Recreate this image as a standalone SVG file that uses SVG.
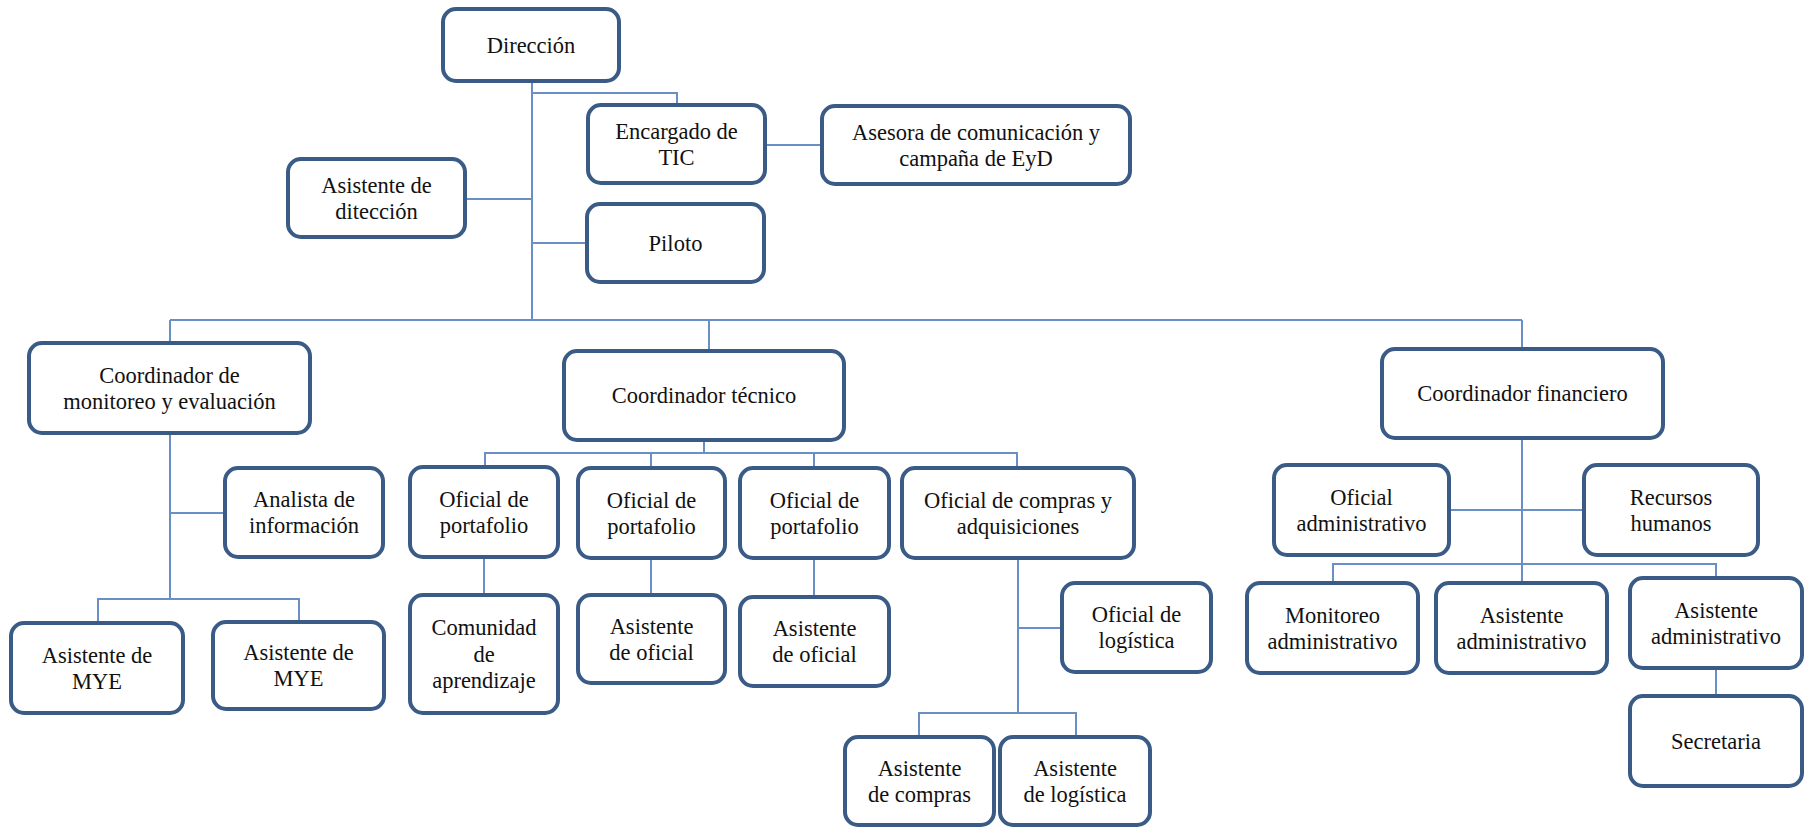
<svg xmlns="http://www.w3.org/2000/svg" width="1814" height="828" viewBox="0 0 1814 828">
  <style>
    .box { fill: #ffffff; stroke: #3b5b87; stroke-width: 4; }
    .lbl { font-family: "Liberation Serif", "Times New Roman", serif; font-size: 22.5px; fill: #111111; text-anchor: middle; }
    .wire { fill: none; stroke: #6a8fc4; stroke-width: 2; }
  </style>
  <rect width="1814" height="828" fill="#ffffff"/>

  <!-- connectors -->
  <g id="connectors" class="wire">
    <path d="M532,81 V320"/>
    <path d="M532,93 H677 V105"/>
    <path d="M465,199 H532"/>
    <path d="M532,243 H587"/>
    <path d="M765,145 H822"/>
    <path d="M170,320 H1522"/>
    <path d="M170,320 V343"/>
    <path d="M709,320 V351"/>
    <path d="M1522,320 V349"/>
    <path d="M170,433 V599"/>
    <path d="M170,513 H225"/>
    <path d="M98,623 V599 H299 V622"/>
    <path d="M704,440 V453"/>
    <path d="M485,467 V453 H1017 V468"/>
    <path d="M651,453 V468"/>
    <path d="M814,453 V468"/>
    <path d="M484,557 V595"/>
    <path d="M651,558 V595"/>
    <path d="M814,558 V597"/>
    <path d="M1018,558 V713"/>
    <path d="M1018,628 H1062"/>
    <path d="M919,737 V713 H1076 V737"/>
    <path d="M1522,438 V583"/>
    <path d="M1449,510 H1584"/>
    <path d="M1333,583 V564 H1716 V578"/>
    <path d="M1716,668 V696"/>
  </g>

  <!-- nodes -->
  <g id="direccion">
    <rect class="box" x="443" y="9" width="176" height="72" rx="13"/>
    <text class="lbl" x="531" y="52.5">Dirección</text>
  </g>
  <g id="encargado-tic">
    <rect class="box" x="588" y="105" width="177" height="78" rx="13"/>
    <text class="lbl" x="676.5" y="138.5">Encargado de</text>
    <text class="lbl" x="676.5" y="164.5">TIC</text>
  </g>
  <g id="asesora">
    <rect class="box" x="822" y="106" width="308" height="78" rx="13"/>
    <text class="lbl" x="976" y="139.5">Asesora de comunicación y</text>
    <text class="lbl" x="976" y="165.5">campaña de EyD</text>
  </g>
  <g id="asistente-direccion">
    <rect class="box" x="288" y="159" width="177" height="78" rx="13"/>
    <text class="lbl" x="376.5" y="192.5">Asistente de</text>
    <text class="lbl" x="376.5" y="218.5">ditección</text>
  </g>
  <g id="piloto">
    <rect class="box" x="587" y="204" width="177" height="78" rx="13"/>
    <text class="lbl" x="675.5" y="250.5">Piloto</text>
  </g>
  <g id="coord-mye">
    <rect class="box" x="29" y="343" width="281" height="90" rx="13"/>
    <text class="lbl" x="169.5" y="382.5">Coordinador de</text>
    <text class="lbl" x="169.5" y="408.5">monitoreo y evaluación</text>
  </g>
  <g id="coord-tecnico">
    <rect class="box" x="564" y="351" width="280" height="89" rx="13"/>
    <text class="lbl" x="704" y="402.5">Coordinador técnico</text>
  </g>
  <g id="coord-financiero">
    <rect class="box" x="1382" y="349" width="281" height="89" rx="13"/>
    <text class="lbl" x="1522.5" y="401">Coordinador financiero</text>
  </g>
  <g id="analista">
    <rect class="box" x="225" y="468" width="158" height="89" rx="13"/>
    <text class="lbl" x="304" y="507">Analista de</text>
    <text class="lbl" x="304" y="533">información</text>
  </g>
  <g id="asistente-mye-1">
    <rect class="box" x="11" y="623" width="172" height="90" rx="13"/>
    <text class="lbl" x="97" y="662.5">Asistente de</text>
    <text class="lbl" x="97" y="688.5">MYE</text>
  </g>
  <g id="asistente-mye-2">
    <rect class="box" x="213" y="622" width="171" height="87" rx="13"/>
    <text class="lbl" x="298.5" y="660">Asistente de</text>
    <text class="lbl" x="298.5" y="686">MYE</text>
  </g>
  <g id="oficial-portafolio-1">
    <rect class="box" x="410" y="467" width="148" height="90" rx="13"/>
    <text class="lbl" x="484" y="506.5">Oficial de</text>
    <text class="lbl" x="484" y="532.5">portafolio</text>
  </g>
  <g id="oficial-portafolio-2">
    <rect class="box" x="578" y="468" width="147" height="90" rx="13"/>
    <text class="lbl" x="651.5" y="507.5">Oficial de</text>
    <text class="lbl" x="651.5" y="533.5">portafolio</text>
  </g>
  <g id="oficial-portafolio-3">
    <rect class="box" x="740" y="468" width="149" height="90" rx="13"/>
    <text class="lbl" x="814.5" y="507.5">Oficial de</text>
    <text class="lbl" x="814.5" y="533.5">portafolio</text>
  </g>
  <g id="oficial-compras">
    <rect class="box" x="902" y="468" width="232" height="90" rx="13"/>
    <text class="lbl" x="1018" y="507.5">Oficial de compras y</text>
    <text class="lbl" x="1018" y="533.5">adquisiciones</text>
  </g>
  <g id="comunidad">
    <rect class="box" x="410" y="595" width="148" height="118" rx="13"/>
    <text class="lbl" x="484" y="635">Comunidad</text>
    <text class="lbl" x="484" y="661.5">de</text>
    <text class="lbl" x="484" y="688">aprendizaje</text>
  </g>
  <g id="asistente-oficial-1">
    <rect class="box" x="578" y="595" width="147" height="88" rx="13"/>
    <text class="lbl" x="651.5" y="633.5">Asistente</text>
    <text class="lbl" x="651.5" y="659.5">de oficial</text>
  </g>
  <g id="asistente-oficial-2">
    <rect class="box" x="740" y="597" width="149" height="89" rx="13"/>
    <text class="lbl" x="814.5" y="636">Asistente</text>
    <text class="lbl" x="814.5" y="662">de oficial</text>
  </g>
  <g id="oficial-logistica">
    <rect class="box" x="1062" y="583" width="149" height="89" rx="13"/>
    <text class="lbl" x="1136.5" y="622">Oficial de</text>
    <text class="lbl" x="1136.5" y="648">logística</text>
  </g>
  <g id="asistente-compras">
    <rect class="box" x="845" y="737" width="149" height="88" rx="13"/>
    <text class="lbl" x="919.5" y="776">Asistente</text>
    <text class="lbl" x="919.5" y="802">de compras</text>
  </g>
  <g id="asistente-logistica">
    <rect class="box" x="1000" y="737" width="150" height="88" rx="13"/>
    <text class="lbl" x="1075" y="776">Asistente</text>
    <text class="lbl" x="1075" y="802">de logística</text>
  </g>
  <g id="oficial-administrativo">
    <rect class="box" x="1274" y="465" width="175" height="90" rx="13"/>
    <text class="lbl" x="1361.5" y="504.5">Oficial</text>
    <text class="lbl" x="1361.5" y="530.5">administrativo</text>
  </g>
  <g id="recursos-humanos">
    <rect class="box" x="1584" y="465" width="174" height="90" rx="13"/>
    <text class="lbl" x="1671" y="504.5">Recursos</text>
    <text class="lbl" x="1671" y="530.5">humanos</text>
  </g>
  <g id="monitoreo-administrativo">
    <rect class="box" x="1247" y="583" width="171" height="90" rx="13"/>
    <text class="lbl" x="1332.5" y="622.5">Monitoreo</text>
    <text class="lbl" x="1332.5" y="648.5">administrativo</text>
  </g>
  <g id="asistente-administrativo-1">
    <rect class="box" x="1436" y="583" width="171" height="90" rx="13"/>
    <text class="lbl" x="1521.5" y="622.5">Asistente</text>
    <text class="lbl" x="1521.5" y="648.5">administrativo</text>
  </g>
  <g id="asistente-administrativo-2">
    <rect class="box" x="1630" y="578" width="172" height="90" rx="13"/>
    <text class="lbl" x="1716" y="617.5">Asistente</text>
    <text class="lbl" x="1716" y="643.5">administrativo</text>
  </g>
  <g id="secretaria">
    <rect class="box" x="1630" y="696" width="172" height="90" rx="13"/>
    <text class="lbl" x="1716" y="748.5">Secretaria</text>
  </g>
</svg>
